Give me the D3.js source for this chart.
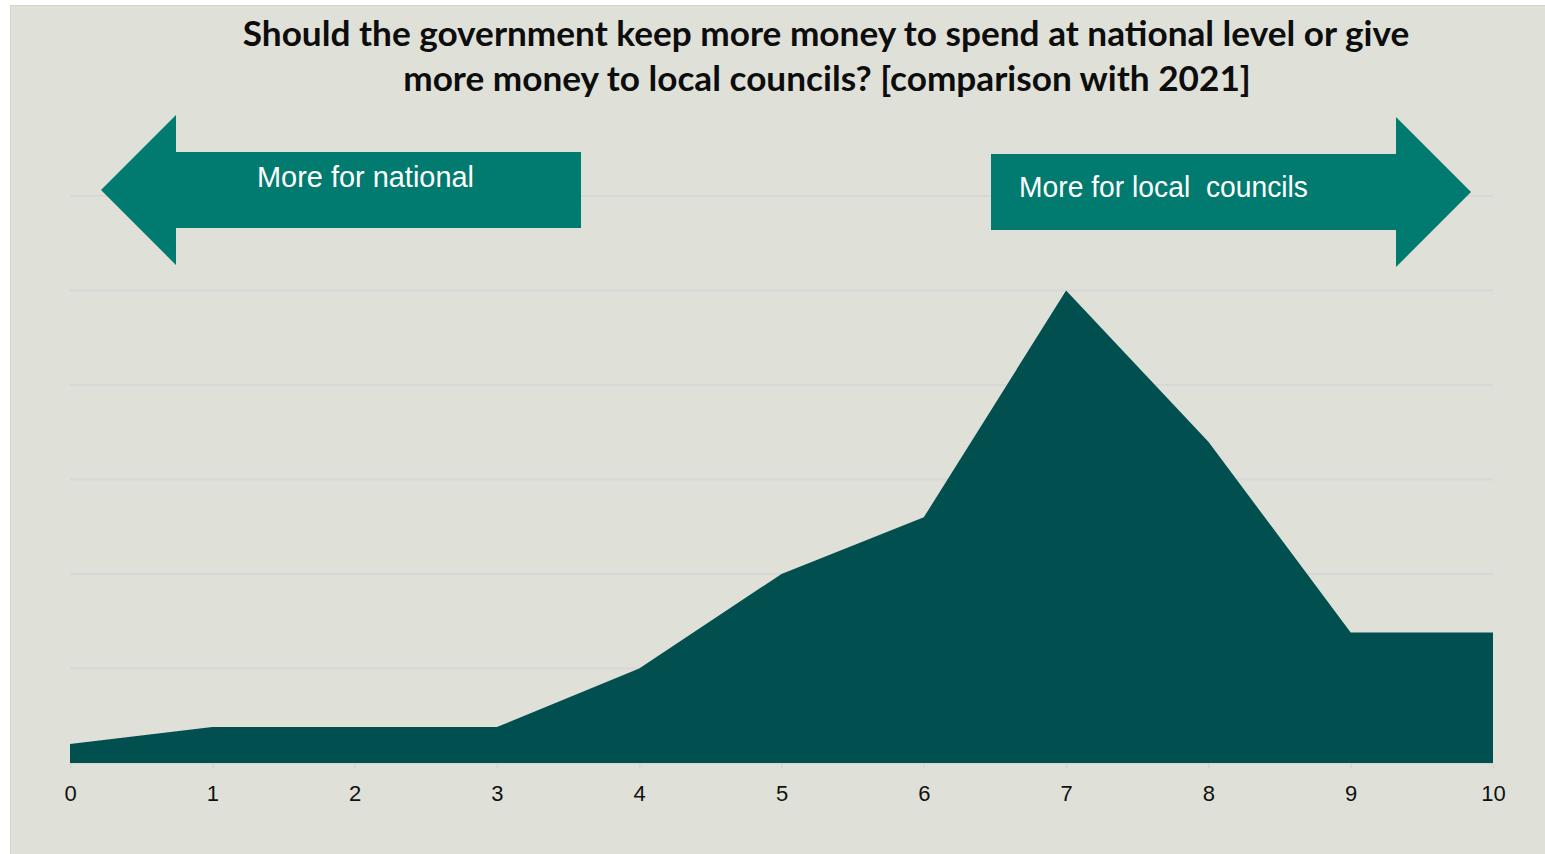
<!DOCTYPE html>
<html>
<head>
<meta charset="utf-8">
<script src="https://cdn.jsdelivr.net/npm/d3@7/dist/d3.min.js"></script>
<style>
  html, body { margin: 0; padding: 0; background: #ffffff; }
  svg { display: block; }
</style>
</head>
<body>
<svg id="chart" width="1545" height="854"></svg>
<script>
// Scale positions 0 (more for national) to 10 (more for local councils)
const scalePoints = [0, 1, 2, 3, 4, 5, 6, 7, 8, 9, 10];
// Share of respondents (%) at each scale point
const shares = [1, 1.9, 1.9, 1.9, 5, 10, 13, 25, 17, 6.9, 6.9];
// Horizontal gridline values (%)
const gridValues = [5, 10, 15, 20, 25, 30];

const titleLines = [
  "Should the government keep more money to spend at national level or give",
  "more money to local councils? [comparison with 2021]"
];
const leftLabel = "More for national";
const rightLabel = "More for local\u00a0 councils";

const svg = d3.select("#chart");
const W = 1545, H = 854;

// panel background
svg.append("rect")
  .attr("x", 10.5).attr("y", 5.5)
  .attr("width", W - 10).attr("height", H - 5)
  .attr("fill", "#dfe0d8")
  .attr("stroke", "#d3d4ce").attr("stroke-width", 1);

const x = d3.scaleLinear().domain([0, 10]).range([70, 1493]);
const y = d3.scaleLinear().domain([0, 30]).range([763, 196]);

// gridlines
svg.append("g")
  .selectAll("line")
  .data(gridValues)
  .join("line")
  .attr("x1", x(0)).attr("x2", x(10))
  .attr("y1", d => y(d)).attr("y2", d => y(d))
  .attr("stroke", "#d7d7d7")
  .attr("stroke-width", 2);

// x axis
const xAxis = d3.axisBottom(x)
  .tickValues(scalePoints)
  .tickFormat(d3.format("d"))
  .tickSizeInner(5).tickSizeOuter(0).tickPadding(16);

const gx = svg.append("g")
  .attr("transform", `translate(0,${y(0)})`)
  .call(xAxis);
gx.select(".domain").attr("stroke", "#d4d4d4").attr("stroke-width", 1.5);
gx.selectAll(".tick line").attr("stroke", "#d4d4d4").attr("stroke-width", 1.5);
gx.selectAll(".tick text")
  .attr("fill", "#111")
  .attr("dy", "0.75em")
  .style("font-family", "'Liberation Sans', Arial, sans-serif")
  .style("font-size", "22px");

// distribution area
const area = d3.area()
  .x((d, i) => x(scalePoints[i]))
  .y0(y(0))
  .y1(d => y(d));

svg.append("path")
  .datum(shares)
  .attr("d", area)
  .attr("fill", "#024f50");

// direction arrows
const arrowColor = "#017b6f";
const leftArrow = [
  [101, 190], [176, 115], [176, 152], [581, 152],
  [581, 228], [176, 228], [176, 265]
];
const rightArrow = [
  [1471, 192], [1396, 117], [1396, 154], [991, 154],
  [991, 230], [1396, 230], [1396, 267]
];
const polyLine = d3.line();
svg.append("path").attr("d", polyLine(leftArrow) + "Z").attr("fill", arrowColor);
svg.append("path").attr("d", polyLine(rightArrow) + "Z").attr("fill", arrowColor);

const labelFont = "'Liberation Sans', Arial, sans-serif";
svg.append("text")
  .attr("x", 257).attr("y", 187)
  .attr("fill", "#ffffff")
  .attr("textLength", 217)
  .attr("lengthAdjust", "spacingAndGlyphs")
  .style("font-family", labelFont)
  .style("font-size", "29px")
  .text(leftLabel);
svg.append("text")
  .attr("x", 1019).attr("y", 197)
  .attr("fill", "#ffffff")
  .attr("textLength", 289)
  .attr("lengthAdjust", "spacingAndGlyphs")
  .style("font-family", labelFont)
  .style("font-size", "29px")
  .text(rightLabel);

// title, sized so the first line spans its intended width
const title = svg.append("g");
const titleFont = "Lato, 'Open Sans', sans-serif";
const t1 = title.append("text")
  .attr("x", 826).attr("y", 46)
  .attr("text-anchor", "middle")
  .attr("fill", "#0d0d0d")
  .style("font-family", titleFont)
  .style("font-weight", "bold")
  .style("font-size", "32px")
  .text(titleLines[0]);
const measured = t1.node().getComputedTextLength();
const fs = 32 * 1167 / measured;
t1.style("font-size", fs + "px");
title.append("text")
  .attr("x", 827).attr("y", 91)
  .attr("text-anchor", "middle")
  .attr("fill", "#0d0d0d")
  .style("font-family", titleFont)
  .style("font-weight", "bold")
  .style("font-size", fs + "px")
  .text(titleLines[1]);
</script>
</body>
</html>
